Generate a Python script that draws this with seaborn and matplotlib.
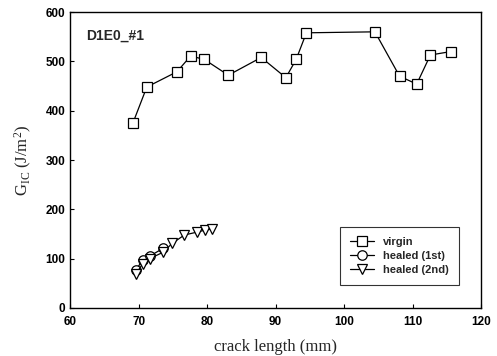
import matplotlib
matplotlib.use("Agg")
import matplotlib.pyplot as plt
import seaborn as sns
import pandas as pd

virgin_x = [69.2, 71.2, 75.6, 77.6, 79.6, 83.1, 87.9, 91.5, 93.0, 94.5, 104.5, 108.1, 110.6, 112.6, 115.6]
virgin_y = [376, 448, 479, 511, 504, 472, 508, 467, 504, 558, 560, 470, 454, 513, 520]
healed1_x = [69.6, 70.6, 71.6, 73.6]
healed1_y = [77, 97, 105, 121]
healed2_x = [69.6, 70.6, 71.6, 73.6, 74.9, 76.7, 78.6, 79.7, 80.7]
healed2_y = [68, 90, 100, 113, 131, 148, 154, 158, 160]

sns.set_style("ticks")
plt.rcParams['font.family'] = ['Liberation Sans', 'DejaVu Sans']
plt.rcParams['mathtext.fontset'] = 'custom'
plt.rcParams['mathtext.rm'] = 'Liberation Serif'
plt.rcParams['mathtext.it'] = 'Liberation Serif:italic'

fig = plt.figure(figsize=(4.97, 3.56), dpi=100)
ax = fig.add_axes([0.141, 0.135, 0.827, 0.831])

series = [
    ("virgin", virgin_x, virgin_y, "s"),
    ("healed (1st)", healed1_x, healed1_y, "o"),
    ("healed (2nd)", healed2_x, healed2_y, "v"),
]
for name, xs, ys, m in series:
    df = pd.DataFrame({"x": xs, "y": ys})
    sns.lineplot(data=df, x="x", y="y", ax=ax, sort=False, color="black", lw=0.9,
                 marker=m, markersize=6.8, markerfacecolor="white",
                 markeredgecolor="black", markeredgewidth=0.9, label=name)

ax.set_xlim(60, 120)
ax.set_ylim(0, 600)
ax.set_xticks(range(60, 121, 10))
ax.set_yticks(range(0, 601, 100))
ax.tick_params(direction="in", length=3, width=0.8, labelsize=8.5, colors="black")
ax.tick_params(axis="x", pad=6)
for lab in ax.get_xticklabels() + ax.get_yticklabels():
    lab.set_fontweight("bold")
for s in ax.spines.values():
    s.set_visible(True)
    s.set_color("black")
    s.set_linewidth(1.0)

ax.set_xlabel("crack length (mm)", family="Liberation Serif", fontsize=12, labelpad=8)
ax.set_ylabel(r"G$_{\mathrm{IC}}$ (J/m$^2$)", family="Liberation Serif", fontsize=12, labelpad=8)

ax.text(0.04, 0.92, "D1E0_#1", transform=ax.transAxes, fontsize=10, fontweight="bold",
        va="center", ha="left")

leg = ax.legend(loc="lower right", bbox_to_anchor=(0.96, 0.06), frameon=True, fancybox=False,
                edgecolor="black", fontsize=8, handlelength=2.2, borderpad=0.9, labelspacing=0.35)
leg.get_frame().set_linewidth(0.8)
for t in leg.get_texts():
    t.set_fontweight("bold")

fig.savefig("out.png", dpi=100)
